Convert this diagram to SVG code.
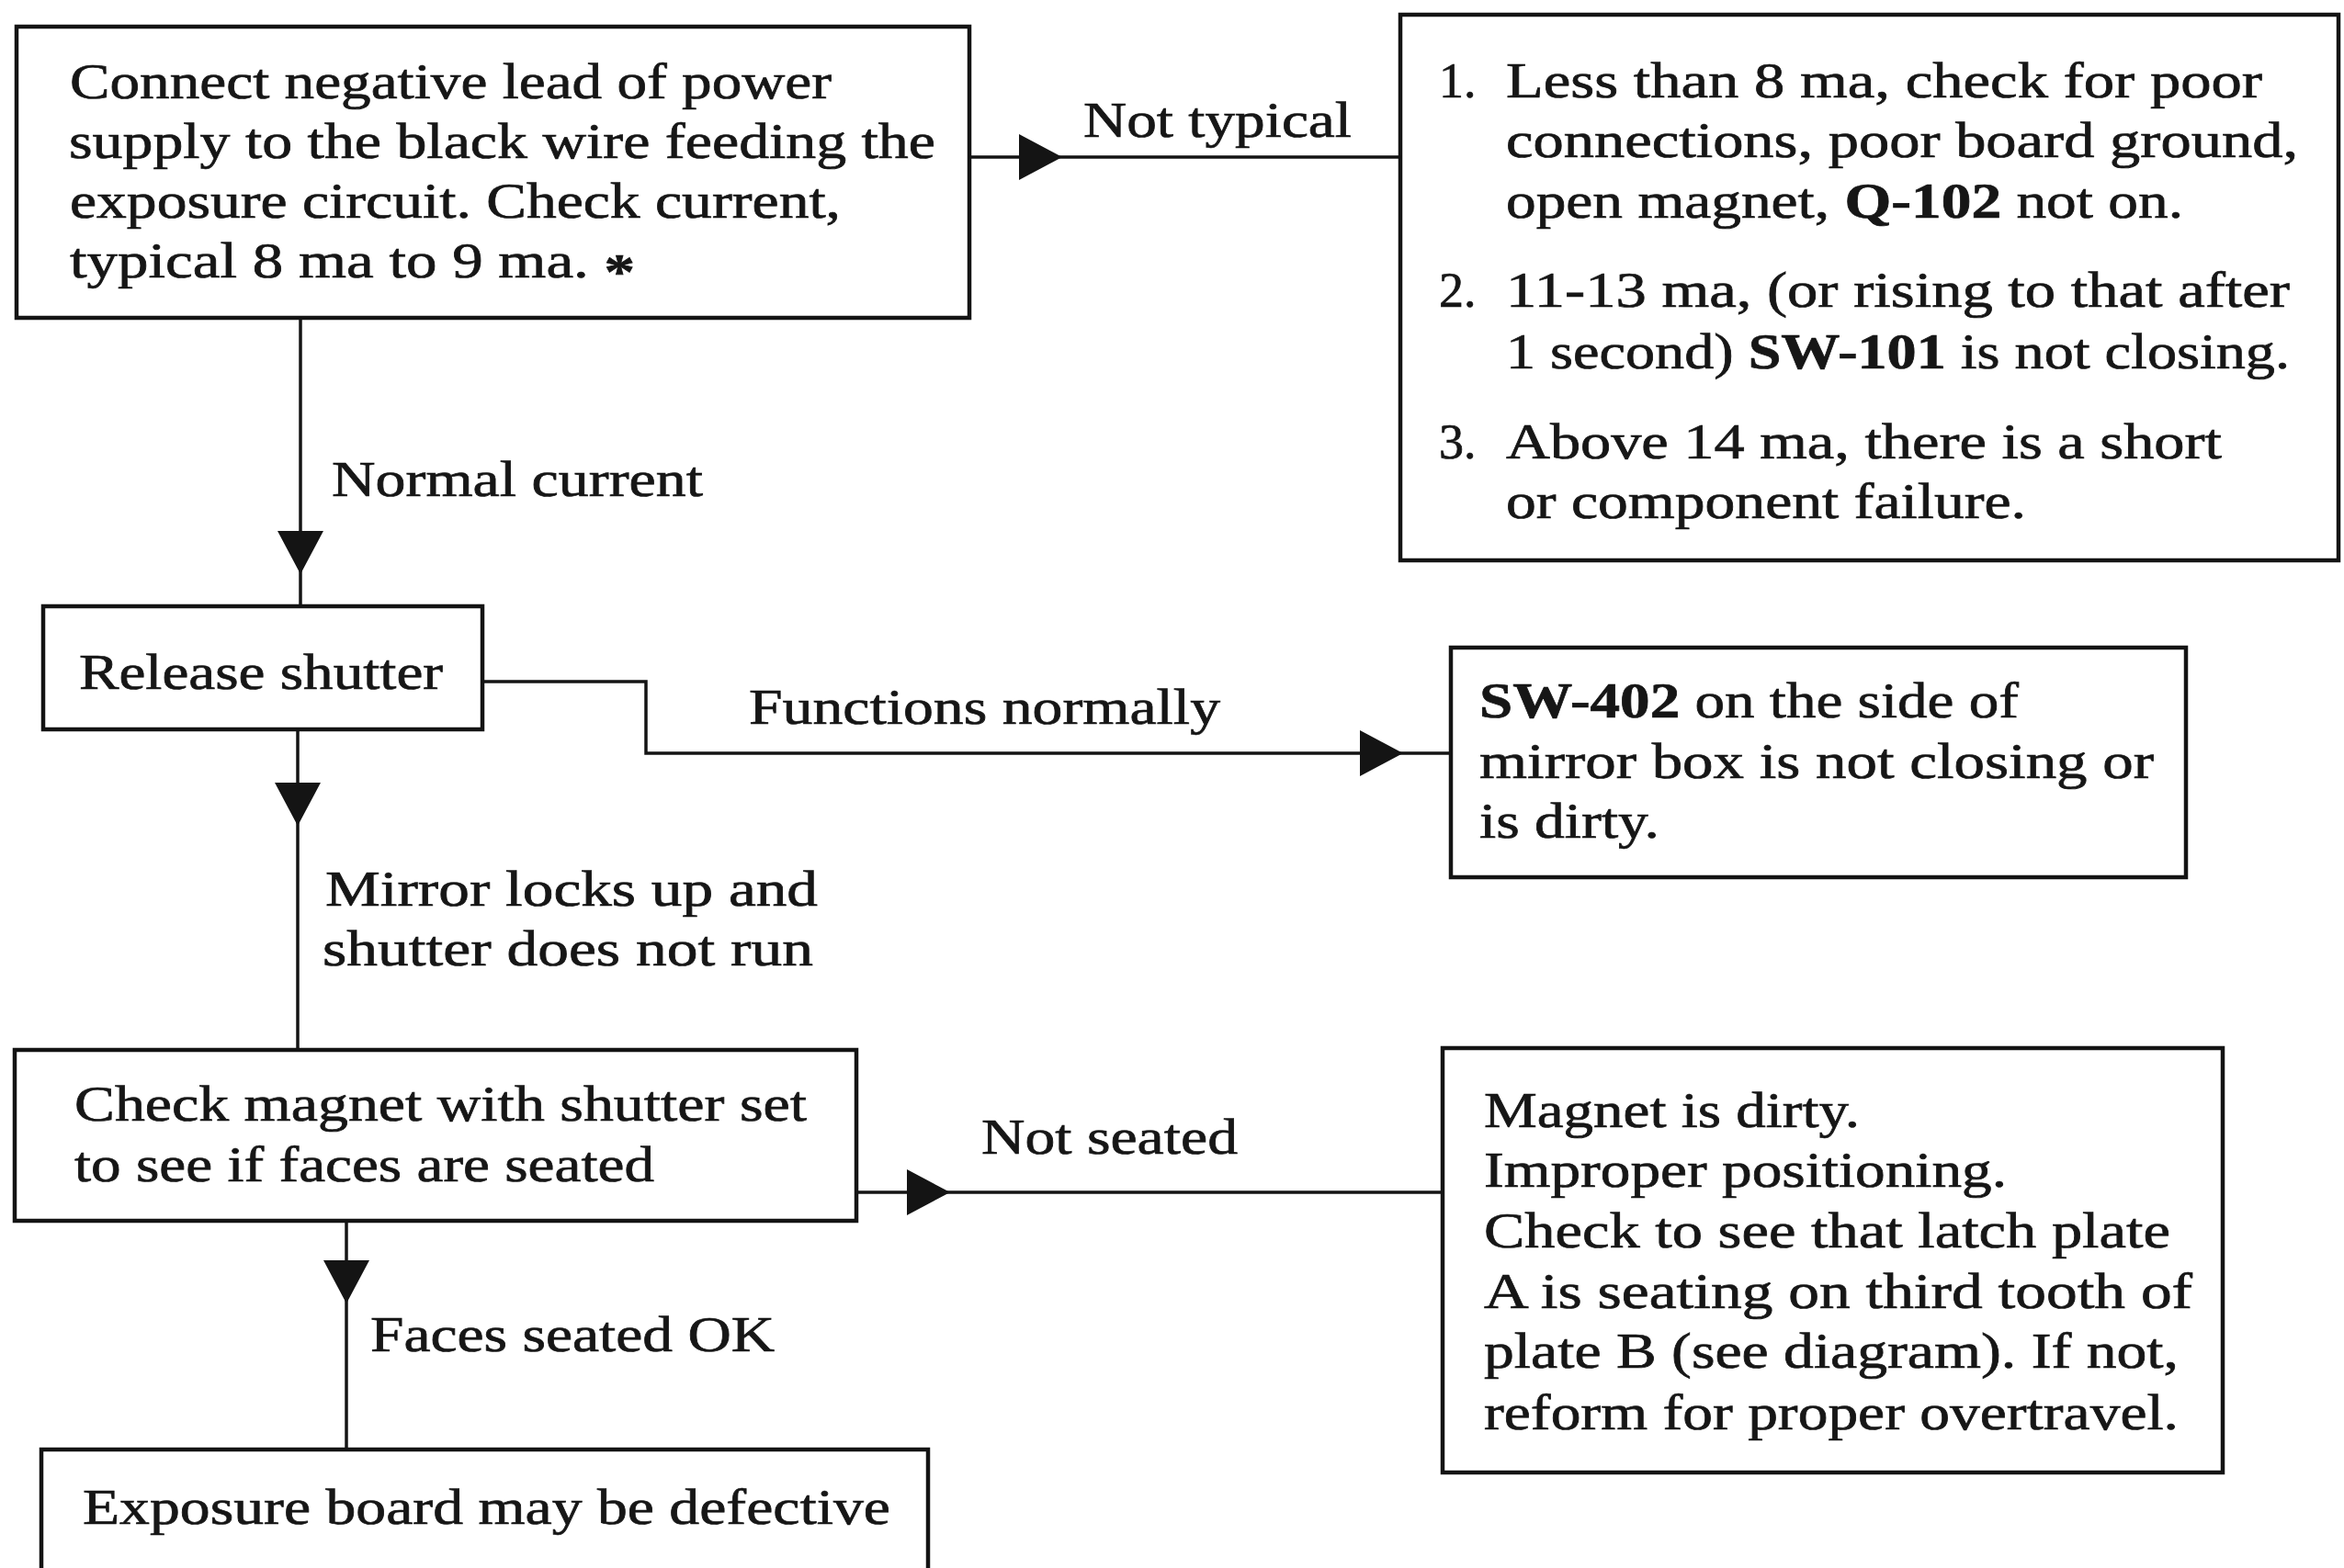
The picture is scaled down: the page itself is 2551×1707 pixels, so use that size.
<svg xmlns="http://www.w3.org/2000/svg" xmlns:xlink="http://www.w3.org/1999/xlink" width="2551" height="1707" viewBox="0 0 2551 1707">
  <style>
    .box { fill: #ffffff; stroke: #141414; stroke-width: 4.5; }
    .wire { fill: none; stroke: #141414; stroke-width: 3.5; }
    .head { fill: #141414; }
    text { font-family: "Liberation Serif", "Times New Roman", serif; font-size: 54px; fill: #161616; stroke: #161616; stroke-width: 0.7; }
    .b { font-weight: bold; }
  </style>
  <defs>
    <!-- solid arrowhead, tip at origin, pointing along +x -->
    <path id="ah" d="M0,0 L-47,-25 L-47,25 Z"/>
  </defs>
  <rect width="2551" height="1707" fill="#ffffff"/>

  <g id="connectors">
    <path class="wire" d="M327,346 L327,660"/>
    <use xlink:href="#ah" class="head" transform="translate(327,625) rotate(90)"/>
    <path class="wire" d="M1055,171 L1524,171"/>
    <use xlink:href="#ah" class="head" transform="translate(1156,171)"/>
    <path class="wire" d="M525,742 L703,742 L703,820 L1579,820"/>
    <use xlink:href="#ah" class="head" transform="translate(1527,820)"/>
    <path class="wire" d="M324,794 L324,1143"/>
    <use xlink:href="#ah" class="head" transform="translate(324,899) rotate(90)"/>
    <path class="wire" d="M932,1298 L1570,1298"/>
    <use xlink:href="#ah" class="head" transform="translate(1034,1298)"/>
    <path class="wire" d="M377,1329 L377,1578"/>
    <use xlink:href="#ah" class="head" transform="translate(377,1419) rotate(90)"/>

    <text x="1179" y="149" textLength="292" lengthAdjust="spacingAndGlyphs">Not typical</text>
    <text x="361" y="540" textLength="404" lengthAdjust="spacingAndGlyphs">Normal current</text>
    <text x="815" y="788" textLength="513" lengthAdjust="spacingAndGlyphs">Functions normally</text>
    <text x="354" y="986" textLength="536" lengthAdjust="spacingAndGlyphs">Mirror locks up and</text>
    <text x="351" y="1051" textLength="534" lengthAdjust="spacingAndGlyphs">shutter does not run</text>
    <text x="1068" y="1256" textLength="279" lengthAdjust="spacingAndGlyphs">Not seated</text>
    <text x="403" y="1471" textLength="440" lengthAdjust="spacingAndGlyphs">Faces seated OK</text>
  </g>

  <g id="measure-current">
    <rect class="box" x="18" y="29" width="1037" height="317"/>
    <text x="76" y="107" textLength="829" lengthAdjust="spacingAndGlyphs">Connect negative lead of power</text>
    <text x="75" y="172" textLength="943" lengthAdjust="spacingAndGlyphs">supply to the black wire feeding the</text>
    <text x="76" y="237" textLength="839" lengthAdjust="spacingAndGlyphs">exposure circuit. Check current,</text>
    <text x="76" y="302" textLength="615" lengthAdjust="spacingAndGlyphs">typical 8 ma to 9 ma. <tspan dy="12" class="b">*</tspan></text>
  </g>

  <g id="current-faults">
    <rect class="box" x="1524" y="16" width="1021" height="594"/>
    <text x="1566" y="106">1.</text>
    <text x="1639" y="106" textLength="823" lengthAdjust="spacingAndGlyphs">Less than 8 ma, check for poor</text>
    <text x="1639" y="171" textLength="862" lengthAdjust="spacingAndGlyphs">connections, poor board ground,</text>
    <text x="1639" y="237" textLength="737" lengthAdjust="spacingAndGlyphs">open magnet, <tspan class="b">Q-102</tspan> not on.</text>
    <text x="1566" y="334">2.</text>
    <text x="1639" y="334" textLength="853" lengthAdjust="spacingAndGlyphs">11-13 ma, (or rising to that after</text>
    <text x="1639" y="401" textLength="853" lengthAdjust="spacingAndGlyphs">1 second) <tspan class="b">SW-101</tspan> is not closing.</text>
    <text x="1566" y="499">3.</text>
    <text x="1639" y="499" textLength="779" lengthAdjust="spacingAndGlyphs">Above 14 ma, there is a short</text>
    <text x="1639" y="564" textLength="566" lengthAdjust="spacingAndGlyphs">or component failure.</text>
  </g>

  <g id="release-shutter">
    <rect class="box" x="47" y="660" width="478" height="134"/>
    <text x="86" y="750" textLength="396" lengthAdjust="spacingAndGlyphs">Release shutter</text>
  </g>

  <g id="sw402">
    <rect class="box" x="1579" y="705" width="800" height="250"/>
    <text x="1610" y="781" textLength="587" lengthAdjust="spacingAndGlyphs"><tspan class="b">SW-402</tspan> on the side of</text>
    <text x="1610" y="847" textLength="734" lengthAdjust="spacingAndGlyphs">mirror box is not closing or</text>
    <text x="1610" y="912" textLength="196" lengthAdjust="spacingAndGlyphs">is dirty.</text>
  </g>

  <g id="check-magnet">
    <rect class="box" x="16" y="1143" width="916" height="186"/>
    <text x="81" y="1220" textLength="797" lengthAdjust="spacingAndGlyphs">Check magnet with shutter set</text>
    <text x="81" y="1286" textLength="631" lengthAdjust="spacingAndGlyphs">to see if faces are seated</text>
  </g>

  <g id="magnet-faults">
    <rect class="box" x="1570" y="1141" width="849" height="462"/>
    <text x="1615" y="1227" textLength="409" lengthAdjust="spacingAndGlyphs">Magnet is dirty.</text>
    <text x="1615" y="1292" textLength="569" lengthAdjust="spacingAndGlyphs">Improper positioning.</text>
    <text x="1615" y="1358" textLength="747" lengthAdjust="spacingAndGlyphs">Check to see that latch plate</text>
    <text x="1615" y="1424" textLength="771" lengthAdjust="spacingAndGlyphs">A is seating on third tooth of</text>
    <text x="1615" y="1489" textLength="756" lengthAdjust="spacingAndGlyphs">plate B (see diagram). If not,</text>
    <text x="1615" y="1556" textLength="756" lengthAdjust="spacingAndGlyphs">reform for proper overtravel.</text>
  </g>

  <g id="exposure-board">
    <rect class="box" x="45" y="1578" width="965" height="200"/>
    <text x="90" y="1659" textLength="879" lengthAdjust="spacingAndGlyphs">Exposure board may be defective</text>
  </g>
</svg>
